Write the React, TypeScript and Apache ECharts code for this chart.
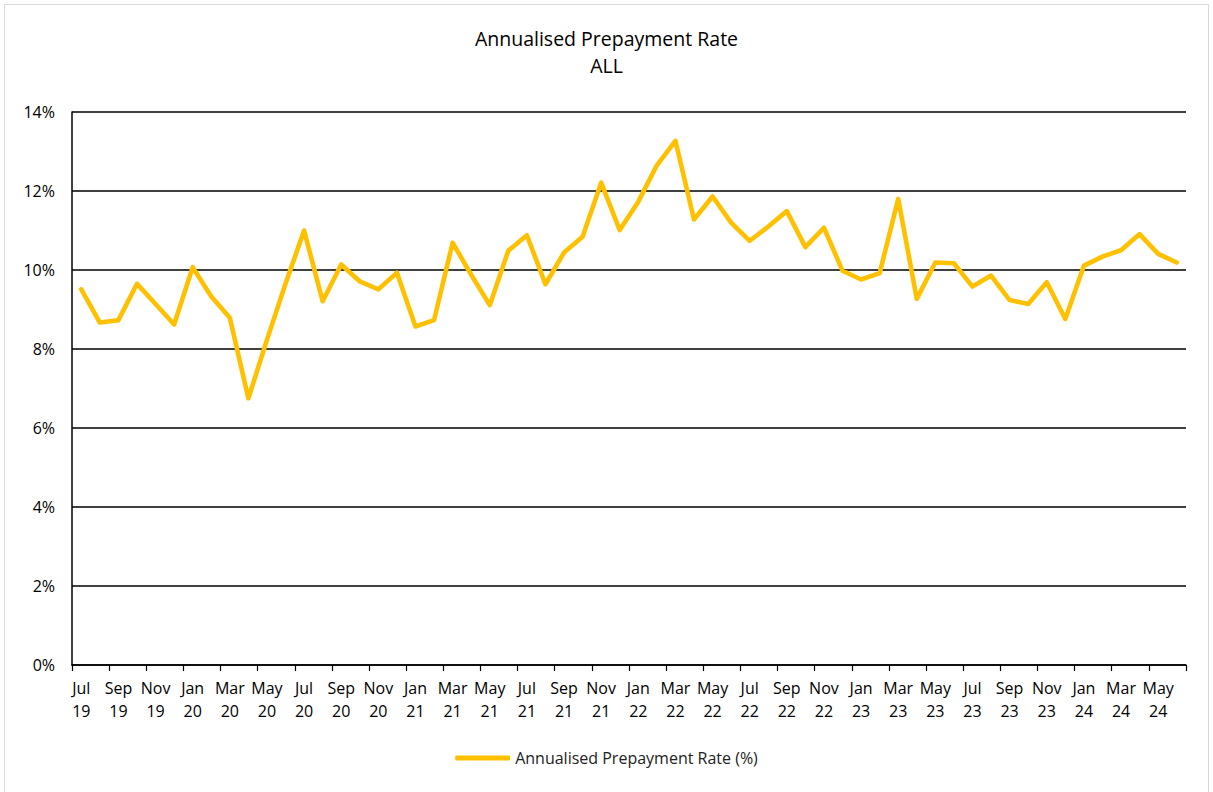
import React, { useEffect, useRef } from "react";
import * as echarts from "echarts";

const months = ["Jul", "Aug", "Sep", "Oct", "Nov", "Dec", "Jan", "Feb", "Mar", "Apr", "May", "Jun"];
const years = ["19", "20", "21", "22", "23", "24"];
const categories: string[] = [];
for (let i = 0; i < 60; i++) {
  categories.push(months[i % 12] + "\n" + years[Math.floor((6 + i) / 12)]);
}

const rateValues = [
  9.51, 8.67, 8.73, 9.65, 9.14, 8.62, 10.07, 9.33, 8.79, 6.75,
  8.23, 9.65, 11.0, 9.21, 10.14, 9.71, 9.51, 9.93, 8.57, 8.73,
  10.69, 9.88, 9.11, 10.49, 10.88, 9.64, 10.44, 10.84, 12.21, 11.01,
  11.73, 12.65, 13.27, 11.28, 11.86, 11.2, 10.74, 11.1, 11.49, 10.58,
  11.07, 9.98, 9.76, 9.92, 11.8, 9.27, 10.19, 10.17, 9.58, 9.86,
  9.24, 9.14, 9.69, 8.76, 10.11, 10.34, 10.5, 10.91, 10.41, 10.19,
];

const titleText = "Annualised Prepayment Rate\nALL";
const seriesName = "Annualised Prepayment Rate (%)";

const FONT = "Open Sans";

export default function App() {
  const ref = useRef<HTMLDivElement>(null);
  useEffect(() => {
    if (!ref.current) return;
    const chart = echarts.init(ref.current, undefined, { renderer: "svg" });
    chart.setOption({
      animation: false,
      backgroundColor: "#ffffff",
      graphic: [
        {
          type: "rect",
          shape: { x: 4.5, y: 4.5, width: 1204, height: 800 },
          style: { fill: "none", stroke: "#d9d9d9", lineWidth: 1 },
          silent: true,
        },
      ],
      title: {
        text: titleText,
        left: "center",
        top: 20,
        textStyle: {
          fontFamily: FONT,
          fontSize: 19.5,
          fontWeight: "normal",
          color: "#000",
          lineHeight: 27,
        },
      },
      legend: {
        bottom: 21,
        left: "center",
        icon: "roundRect",
        itemWidth: 55,
        itemHeight: 5,
        itemGap: 4,
        textStyle: { fontFamily: FONT, fontSize: 16, color: "#222" },
        data: [seriesName],
      },
      grid: { left: 72, right: 27, top: 112, bottom: 127, containLabel: false },
      xAxis: {
        type: "category",
        data: categories,
        boundaryGap: true,
        axisLine: { lineStyle: { color: "#000", width: 1.5 } },
        axisTick: { show: true, interval: 1, length: 6, lineStyle: { color: "#000", width: 1.2 } },
        axisLabel: {
          interval: 1,
          fontFamily: FONT,
          fontSize: 16,
          color: "#000",
          lineHeight: 23,
          margin: 11,
        },
      },
      yAxis: {
        type: "value",
        min: 0,
        max: 14,
        interval: 2,
        axisLine: { show: true, lineStyle: { color: "#000", width: 1.5 } },
        axisTick: { show: false },
        axisLabel: {
          formatter: "{value}%",
          fontFamily: FONT,
          fontSize: 16,
          color: "#000",
          margin: 17,
        },
        splitLine: { show: true, lineStyle: { color: "#000", width: 1.5 } },
      },
      series: [
        {
          name: seriesName,
          type: "line",
          data: rateValues,
          symbol: "none",
          color: "#FFC000",
          lineStyle: { color: "#FFC000", width: 4.6, cap: "round", join: "round" },
          itemStyle: { color: "#FFC000" },
        },
      ],
    });
    return () => chart.dispose();
  }, []);
  return (
    <div
      ref={ref}
      style={{ position: "absolute", left: 0, top: 0, width: 1213, height: 792 }}
    />
  );
}
